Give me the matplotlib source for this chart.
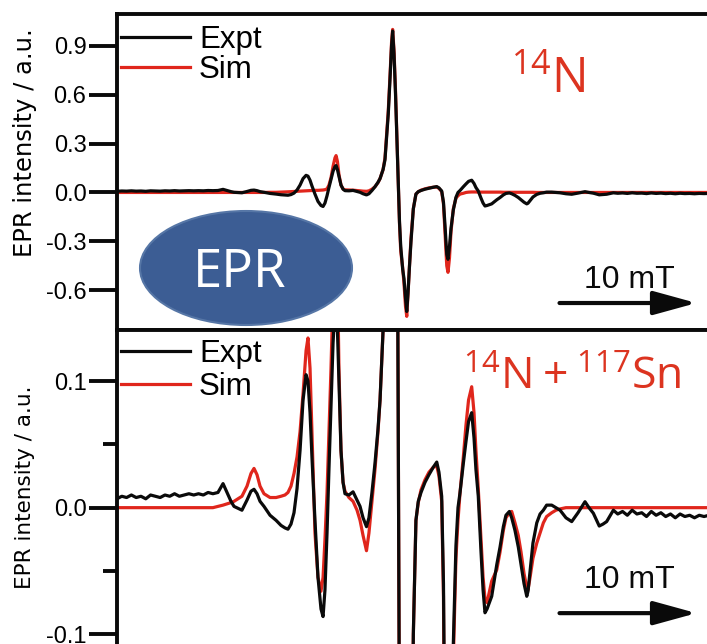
import matplotlib
matplotlib.use('Agg')
import matplotlib.pyplot as plt
import matplotlib.transforms as mtransforms
from matplotlib.patches import Ellipse

plt.rcParams['axes.unicode_minus'] = False

# ---------------- data (magnetic field in mT, intensity in a.u.) ----------------
field = [
    320.00, 320.35, 320.70, 321.05, 321.40, 321.75, 322.10, 322.45, 322.80, 323.15,
    323.50, 323.85, 324.20, 324.55, 324.90, 325.25, 325.60, 325.95, 326.30, 326.65,
    327.00, 327.37, 327.74, 328.03, 328.32, 328.54, 329.12, 329.49, 329.78, 330.00,
    330.22, 330.44, 330.73, 331.17, 331.61, 331.97, 332.26, 332.48, 332.70, 332.92,
    333.14, 333.36, 333.58, 333.80, 333.94, 334.09, 334.23, 334.45, 334.67, 334.89,
    335.04, 335.18, 335.33, 335.47, 335.62, 335.77, 335.91, 335.99, 336.09, 336.20,
    336.35, 336.50, 336.64, 336.93, 337.23, 337.52, 337.74, 337.96, 338.21, 338.39,
    338.61, 338.83, 339.05, 339.20, 339.42, 339.56, 339.67, 339.80, 339.93, 340.04,
    340.12, 340.22, 340.33, 340.44, 340.53, 340.62, 340.71, 340.85, 340.95, 341.06,
    341.15, 341.24, 341.35, 341.46, 341.63, 341.82, 341.99, 342.19, 342.48, 342.77,
    343.09, 343.34, 343.50, 343.70, 343.83, 343.94, 344.07, 344.16, 344.27, 344.38,
    344.55, 344.74, 344.89, 345.04, 345.28, 345.47, 345.66, 345.89, 346.06, 346.20,
    346.37, 346.57, 346.72, 346.86, 347.01, 347.35, 347.72, 347.96, 348.20, 348.39,
    348.64, 348.81, 349.05, 349.29, 349.49, 349.71, 349.91, 350.00, 350.15, 350.36,
    350.64, 350.88, 351.12, 351.36, 351.73, 352.04, 352.34, 352.77, 353.19, 353.65,
    354.16, 354.45, 354.77, 355.20, 355.47, 355.74, 356.23, 356.55, 356.90, 357.25,
    357.60, 357.95, 358.30, 358.65, 359.00, 359.35, 359.70, 360.05, 360.40, 360.75,
    361.10, 361.45, 361.80, 362.15, 362.50, 362.85, 363.20, 363.50,
]

expt = [
    0.007, 0.009, 0.008, 0.010, 0.008, 0.009, 0.007, 0.010, 0.009, 0.008,
    0.010, 0.009, 0.011, 0.009, 0.010, 0.011, 0.010, 0.011, 0.010, 0.012,
    0.011, 0.012, 0.019, 0.012, 0.005, 0.001, -0.002, 0.006, 0.013, 0.0145,
    0.011, 0.005, 0.001, -0.006, -0.010, -0.014, -0.016, -0.017, -0.013, -0.004,
    0.015, 0.045, 0.085, 0.105, 0.100, 0.075, 0.040, -0.010, -0.055, -0.080,
    -0.086, -0.065, -0.020, 0.030, 0.080, 0.130, 0.158, 0.165, 0.140, 0.100,
    0.045, 0.020, 0.011, 0.010, 0.0125, 0.006, 0.001, -0.008, -0.015, -0.008,
    0.012, 0.035, 0.062, 0.085, 0.140, 0.200, 0.330, 0.480, 0.700, 0.900,
    0.990, 0.850, 0.600, 0.300, 0.050, -0.180, -0.330, -0.470, -0.530, -0.650,
    -0.730, -0.620, -0.450, -0.300, -0.100, -0.010, 0.005, 0.012, 0.020, 0.026,
    0.032, 0.036, 0.028, 0.009, -0.060, -0.200, -0.380, -0.410, -0.330, -0.220,
    -0.107, -0.030, 0.000, 0.012, 0.035, 0.052, 0.068, 0.075, 0.055, 0.030,
    0.009, -0.035, -0.065, -0.083, -0.080, -0.070, -0.045, -0.031, -0.015, -0.006,
    -0.003, -0.008, -0.018, -0.031, -0.045, -0.060, -0.070, -0.066, -0.050, -0.028,
    -0.012, -0.005, -0.002, 0.002, 0.002, 0.000, -0.002, -0.008, -0.011, -0.004,
    0.0047, 0.000, -0.0044, -0.0145, -0.013, -0.011, -0.002, -0.005, -0.003, -0.006,
    -0.002, -0.005, -0.004, -0.007, -0.003, -0.006, -0.004, -0.007, -0.005, -0.008,
    -0.005, -0.007, -0.006, -0.008, -0.006, -0.007, -0.006, -0.007,
]

# simulation with 14N hyperfine only (top panel)
sim_n = [
    0.000, 0.000, 0.000, 0.000, 0.000, 0.000, 0.000, 0.000, 0.000, 0.000,
    0.000, 0.000, 0.000, 0.000, 0.000, 0.000, 0.000, 0.000, 0.000, 0.000,
    0.000, 0.000, 0.000, 0.000, 0.000, 0.000, 0.000, 0.000, 0.000, 0.000,
    0.000, 0.000, 0.000, 0.001, 0.001, 0.002, 0.003, 0.004, 0.005, 0.006,
    0.007, 0.008, 0.009, 0.010, 0.011, 0.012, 0.012, 0.013, 0.013, 0.014,
    0.015, 0.017, 0.022, 0.045, 0.090, 0.160, 0.212, 0.226, 0.190, 0.110,
    0.045, 0.022, 0.016, 0.015, 0.014, 0.012, 0.010, 0.008, 0.007, 0.010,
    0.020, 0.035, 0.060, 0.085, 0.140, 0.210, 0.340, 0.500, 0.720, 0.920,
    1.000, 0.870, 0.620, 0.320, 0.060, -0.190, -0.360, -0.460, -0.560, -0.700,
    -0.760, -0.620, -0.450, -0.280, -0.100, -0.010, 0.004, 0.014, 0.022, 0.028,
    0.032, 0.033, 0.025, 0.005, -0.070, -0.250, -0.450, -0.490, -0.400, -0.240,
    -0.100, -0.035, -0.020, -0.010, -0.005, 0.000, 0.002, 0.003, 0.003, 0.003,
    0.002, 0.002, 0.002, 0.002, 0.002, 0.002, 0.002, 0.002, 0.001, 0.001,
    0.001, 0.001, 0.001, 0.001, 0.001, 0.001, 0.001, 0.001, 0.001, 0.001,
    0.000, 0.000, 0.000, 0.000, 0.000, 0.000, 0.000, 0.000, 0.000, 0.000,
    0.000, 0.000, 0.000, 0.000, 0.000, 0.000, 0.000, 0.000, 0.000, 0.000,
    0.000, 0.000, 0.000, 0.000, 0.000, 0.000, 0.000, 0.000, 0.000, 0.000,
    0.000, 0.000, 0.000, 0.000, 0.000, 0.000, 0.000, 0.000,
]

# simulation with 14N + 117Sn hyperfine (bottom panel)
sim_nsn = [
    0.000, 0.000, 0.000, 0.000, 0.000, 0.000, 0.000, 0.000, 0.000, 0.000,
    0.000, 0.000, 0.000, 0.000, 0.000, 0.000, 0.000, 0.000, 0.000, 0.000,
    0.000, 0.001, 0.002, 0.003, 0.004, 0.005, 0.009, 0.017, 0.027, 0.031,
    0.026, 0.017, 0.011, 0.008, 0.008, 0.009, 0.010, 0.012, 0.017, 0.027,
    0.040, 0.060, 0.090, 0.124, 0.134, 0.110, 0.060, -0.020, -0.055, -0.066,
    -0.055, -0.025, 0.012, 0.060, 0.110, 0.170, 0.215, 0.228, 0.190, 0.110,
    0.045, 0.020, 0.013, 0.008, 0.005, -0.002, -0.010, -0.022, -0.034, -0.020,
    0.005, 0.030, 0.060, 0.085, 0.140, 0.210, 0.340, 0.500, 0.720, 0.920,
    1.000, 0.870, 0.620, 0.320, 0.060, -0.190, -0.360, -0.460, -0.560, -0.700,
    -0.760, -0.620, -0.450, -0.280, -0.100, -0.010, 0.004, 0.014, 0.022, 0.028,
    0.032, 0.033, 0.025, 0.005, -0.070, -0.250, -0.450, -0.490, -0.400, -0.250,
    -0.120, -0.040, -0.010, 0.012, 0.040, 0.065, 0.085, 0.0955, 0.075, 0.045,
    0.015, -0.025, -0.055, -0.072, -0.075, -0.058, -0.049, -0.035, -0.018, -0.008,
    -0.004, -0.003, -0.012, -0.022, -0.035, -0.052, -0.063, -0.065, -0.055, -0.040,
    -0.028, -0.020, -0.012, -0.007, -0.004, -0.002, -0.001, 0.000, 0.000, 0.000,
    0.000, 0.000, 0.000, 0.000, 0.000, 0.000, 0.000, 0.000, 0.000, 0.000,
    0.000, 0.000, 0.000, 0.000, 0.000, 0.000, 0.000, 0.000, 0.000, 0.000,
    0.000, 0.000, 0.000, 0.000, 0.000, 0.000, 0.000, 0.000,
]

top_ticks = [-0.6, -0.3, 0.0, 0.3, 0.6, 0.9]
top_ticklabels = ['-0.6', '-0.3', '0.0', '0.3', '0.6', '0.9']
bot_ticks = [-0.1, 0.0, 0.1]
bot_ticklabels = ['-0.1', '0.0', '0.1']
bot_minor = [-0.05, 0.05]

# ---------------- styling ----------------
W, H = 707, 644
BLACK = '#0a0a0a'
RED = '#e0261c'
LABEL_RED = '#dc3420'

fig = plt.figure(figsize=(W / 100, H / 100), dpi=100)


def fx(px):
    return px / W


def fy(py):
    return 1 - py / H


ax1 = fig.add_axes([fx(117), fy(330), (712 - 117) / W, (330 - 14) / H])
ax2 = fig.add_axes([fx(117), fy(660), (712 - 117) / W, (660 - 330) / H])

xlim = (320.0, 363.43)
handles = {}

for ax, sim, ticks, labels in ((ax1, sim_n, top_ticks, top_ticklabels),
                               (ax2, sim_nsn, bot_ticks, bot_ticklabels)):
    l_sim, = ax.plot(field, sim, color=RED, lw=2.3, zorder=2, label='Sim')
    l_exp, = ax.plot(field, expt, color=BLACK, lw=2.3, zorder=3, label='Expt')
    ax.set_xlim(*xlim)
    ax.set_xticks([])
    ax.set_yticks(ticks)
    ax.set_yticklabels(labels, fontsize=17, family='Liberation Sans')
    ax.tick_params(axis='y', which='major', direction='out', length=20,
                   width=2.8, pad=2, color=BLACK)
    ax.tick_params(axis='y', which='minor', direction='out', length=10,
                   width=2.8, color=BLACK)
    for s in ax.spines.values():
        s.set_linewidth(2.8)
        s.set_color(BLACK)
    ax.spines['right'].set_visible(False)
    handles[ax] = [l_exp, l_sim]

ax1.set_ylim(-0.8436, 1.0945)
ax2.set_ylim(-0.1203, 0.1403)
ax2.set_yticks(bot_minor, minor=True)
ax2.spines['bottom'].set_visible(False)

# y labels
ax1.set_ylabel('EPR intensity / a.u.', fontsize=17.5, family='DejaVu Sans',
               va='center')
ax1.yaxis.set_label_coords(fx(25), fy(142.5), transform=fig.transFigure)
ax2.set_ylabel('EPR intensity / a.u.', fontsize=15.5, family='DejaVu Sans',
               va='center')
ax2.yaxis.set_label_coords(fx(25), fy(487.5), transform=fig.transFigure)

# legends
ax1.legend(handles=handles[ax1], loc='upper left',
           bbox_to_anchor=(fx(121), fy(25)), bbox_transform=fig.transFigure,
           frameon=False, borderpad=0, borderaxespad=0, handlelength=2.2,
           handletextpad=0.3, labelspacing=0.0,
           prop={'family': 'Liberation Sans', 'size': 22.5})
ax2.legend(handles=handles[ax2], loc='upper left',
           bbox_to_anchor=(fx(121), fy(339)), bbox_transform=fig.transFigure,
           frameon=False, borderpad=0, borderaxespad=0, handlelength=2.2,
           handletextpad=0.3, labelspacing=0.1,
           prop={'family': 'Liberation Sans', 'size': 22.5})

# isotope labels
b1 = mtransforms.blended_transform_factory(ax1.transData, ax1.transAxes)
b2 = mtransforms.blended_transform_factory(ax2.transData, ax2.transAxes)
ax1.text(348.75, 0.75, r'$\mathregular{^{14}N}$', transform=b1,
         color=LABEL_RED, fontsize=35, family='Open Sans',
         ha='left', va='baseline')
ax2.text(345.26, 0.818, r'$\mathregular{^{14}N+^{117}Sn}$', transform=b2,
         color=LABEL_RED, fontsize=32, family='Open Sans',
         ha='left', va='baseline')

# EPR badge
ell = Ellipse((fx(246), fy(268)), 212 / W, 114 / H, transform=fig.transFigure,
              facecolor='#3c5d94', edgecolor='#5676a6', lw=1.5, zorder=1)
ax1.add_patch(ell)
ax1.text(fx(240), fy(273), 'EPR', transform=fig.transFigure, color='white',
         fontsize=38, family='Open Sans', ha='center', va='center', zorder=4)

# 10 mT scale arrows
for ax, bt, yarr, ytxt in ((ax1, b1, 0.0854, 0.133), (ax2, b2, 0.142, 0.218)):
    ax.annotate('', xy=(362.3, yarr), xytext=(352.3, yarr), xycoords=bt,
                textcoords=bt,
                arrowprops=dict(arrowstyle='-|>,head_length=0.8,head_width=0.22',
                                mutation_scale=33, lw=3, color=BLACK,
                                shrinkA=0, shrinkB=0))
    ax.text(357.4, ytxt, '10 mT', transform=bt, fontsize=23,
            family='Liberation Sans', ha='center', va='baseline', color=BLACK)

fig.savefig('out.png', dpi=100)
